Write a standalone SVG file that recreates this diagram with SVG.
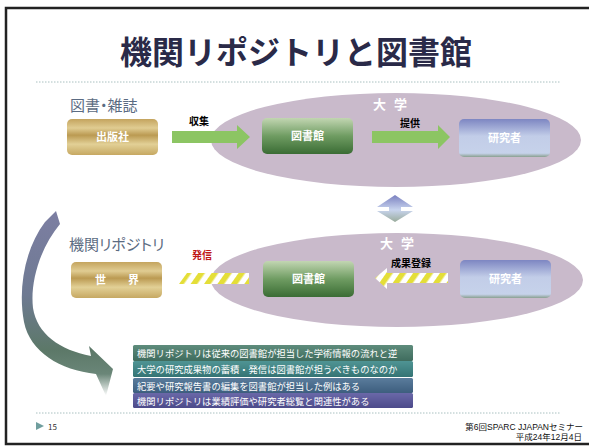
<svg xmlns="http://www.w3.org/2000/svg" width="589" height="448" viewBox="0 0 589 448">
<defs>
<style>
text{font-family:"Noto Sans CJK JP","Noto Sans",sans-serif}
.box{stroke:none}
.bt{fill:#fff;font-size:11px;font-weight:700;text-anchor:middle}
.lbl{fill:#000;font-size:10px;font-weight:700;text-anchor:middle}
.sec{fill:#5b6b82;font-size:15px;font-feature-settings:"palt"}
.uni{fill:#fff;font-size:13px;font-weight:700;letter-spacing:8px}
.row{fill:#fff;font-size:9.3px}
.foot{font-family:"Liberation Sans","Noto Sans CJK JP",sans-serif;font-size:8.5px;fill:#111;text-anchor:end}
.dot{stroke:#a9c0c0;stroke-width:1;stroke-dasharray:1.5 1.5;fill:none}
.ell{fill:#c9bacb}
.garrow{fill:#8cc563}
</style>
<linearGradient id="gold" x1="0" y1="0" x2="0" y2="1">
<stop offset="0" stop-color="#c4a45e"/>
<stop offset="0.25" stop-color="#e0cc92"/>
<stop offset="0.45" stop-color="#bb9a52"/>
<stop offset="0.7" stop-color="#e2d096"/>
<stop offset="1" stop-color="#c6a862"/>
</linearGradient>
<linearGradient id="green" x1="0" y1="0" x2="0" y2="1">
<stop offset="0" stop-color="#c2d6b2"/>
<stop offset="0.5" stop-color="#6f9c62"/>
<stop offset="1" stop-color="#3a6c34"/>
</linearGradient>
<linearGradient id="blue" x1="0" y1="0" x2="0" y2="1">
<stop offset="0" stop-color="#7d86c2"/>
<stop offset="0.45" stop-color="#c2cde8"/>
<stop offset="0.9" stop-color="#c6d2ea"/>
<stop offset="1" stop-color="#8aa090"/>
</linearGradient>
<linearGradient id="dbl" x1="0" y1="0" x2="0" y2="1">
<stop offset="0" stop-color="#7a80c0"/>
<stop offset="0.55" stop-color="#c8d4ee"/>
<stop offset="1" stop-color="#9aac9c"/>
</linearGradient>
<linearGradient id="curve" gradientUnits="userSpaceOnUse" x1="0" y1="212" x2="0" y2="396">
<stop offset="0" stop-color="#7c7ea2"/>
<stop offset="0.45" stop-color="#6e7a92"/>
<stop offset="0.75" stop-color="#5c7868"/>
<stop offset="0.88" stop-color="#6a8678"/>
<stop offset="1" stop-color="#ffffff"/>
</linearGradient>
<linearGradient id="r1" x1="0" y1="0" x2="0" y2="1"><stop offset="0" stop-color="#5e8c7c"/><stop offset="1" stop-color="#3f6c5e"/></linearGradient>
<linearGradient id="r2" x1="0" y1="0" x2="0" y2="1"><stop offset="0" stop-color="#4f9494"/><stop offset="1" stop-color="#357474"/></linearGradient>
<linearGradient id="r3" x1="0" y1="0" x2="0" y2="1"><stop offset="0" stop-color="#5a7c9c"/><stop offset="1" stop-color="#3d5e7e"/></linearGradient>
<linearGradient id="r4" x1="0" y1="0" x2="0" y2="1"><stop offset="0" stop-color="#6a68a8"/><stop offset="1" stop-color="#4c4a8a"/></linearGradient>
<pattern id="hatch" width="11" height="11" patternUnits="userSpaceOnUse" patternTransform="rotate(35)">
<rect width="11" height="11" fill="#ffffff"/>
<rect width="5.5" height="11" fill="#e4de38"/>
</pattern>
</defs>

<rect x="6" y="8" width="600" height="436" fill="#fff" stroke="#222" stroke-width="2.5"/>

<text x="296" y="64" text-anchor="middle" font-size="32" font-weight="700" fill="#2a2a48">機関リポジトリと図書館</text>
<line class="dot" x1="36" y1="82" x2="561" y2="82"/>

<g id="univ-top">
<ellipse class="ell" cx="396" cy="140" rx="185" ry="47"/>
<text class="uni" x="373" y="109">大学</text>
</g>
<g id="univ-bottom">
<ellipse class="ell" cx="397" cy="280" rx="186" ry="47"/>
<text class="uni" x="380" y="248">大学</text>
</g>

<text class="sec" x="70" y="111">図書・雑誌</text>
<text class="sec" x="69" y="250">機関リポジトリ</text>

<g id="publisher">
<rect class="box" x="67" y="119" width="91" height="36" rx="5" fill="url(#gold)"/>
<text class="bt" x="112.5" y="141">出版社</text>
</g>
<g id="library-top">
<rect class="box" x="262" y="118" width="91" height="36" rx="5" fill="url(#green)"/>
<text class="bt" x="307.5" y="140">図書館</text>
</g>
<g id="researcher-top">
<rect class="box" x="459" y="119" width="91" height="38" rx="5" fill="url(#blue)"/>
<text class="bt" x="504.5" y="142">研究者</text>
</g>

<g id="world">
<rect class="box" x="71" y="262" width="91" height="36" rx="5" fill="url(#gold)"/>
<text class="bt" x="117" y="284">世　　界</text>
</g>
<g id="library-bottom">
<rect class="box" x="263" y="261" width="91" height="36" rx="5" fill="url(#green)"/>
<text class="bt" x="308.5" y="283">図書館</text>
</g>
<g id="researcher-bottom">
<rect class="box" x="460" y="260" width="91" height="38" rx="5" fill="url(#blue)"/>
<text class="bt" x="505.5" y="283">研究者</text>
</g>

<g id="connectors">
<polygon class="garrow" points="172,131 237,131 237,125 250,137 237,149 237,143 172,143"/>
<text class="lbl" x="199" y="125">収集</text>
<polygon class="garrow" points="372,131 438,131 438,125 450,137 438,149 438,143 372,143"/>
<text class="lbl" x="410" y="127">提供</text>

<path d="M395 195 L413 207 L401 207 L401 211 L413 211 L395 222 L377 211 L389 211 L389 207 L377 207 Z" fill="url(#dbl)"/>

<polygon points="187,273 249,273 249,284 179,284" fill="url(#hatch)"/>
<text class="lbl" x="202" y="259" style="fill:#c01818">発信</text>
<polygon points="375,278 387,268 387,273 448,273 448,283 387,283 387,289" fill="url(#hatch)"/>
<text class="lbl" x="411" y="267">成果登録</text>

<path d="M45 222 L56 211 L60 224 C40 248 30 282 33 308 C37 334 60 350 91 356 L89 346 L113 369 L106 396 L96 374 C60 370 30 352 24 322 C18 290 24 250 45 222 Z" fill="url(#curve)"/>
</g>

<g id="notes">
<rect x="133" y="345" width="280" height="16" rx="1.5" fill="url(#r1)"/>
<text class="row" x="137" y="357">機関リポジトリは従来の図書館が担当した学術情報の流れと逆</text>
<rect x="133" y="361" width="280" height="16" rx="1.5" fill="url(#r2)"/>
<text class="row" x="137" y="373">大学の研究成果物の蓄積・発信は図書館が担うべきものなのか</text>
<rect x="133" y="378" width="280" height="15" rx="1.5" fill="url(#r3)"/>
<text class="row" x="137" y="389.5">紀要や研究報告書の編集を図書館が担当した例はある</text>
<rect x="133" y="393" width="280" height="15" rx="1.5" fill="url(#r4)"/>
<text class="row" x="137" y="404.5">機関リポジトリは業績評価や研究者総覧と関連性がある</text>
</g>

<line class="dot" x1="36" y1="413" x2="561" y2="413"/>
<polygon points="36,422 44,426 36,430" fill="#6f9e9e"/>
<text x="48" y="430" font-size="8" fill="#333" font-family="Liberation Sans, sans-serif">15</text>
<text class="foot" x="583" y="430">第6回SPARC JJAPANセミナー</text>
<text class="foot" x="582" y="440">平成24年12月4日</text>
</svg>
